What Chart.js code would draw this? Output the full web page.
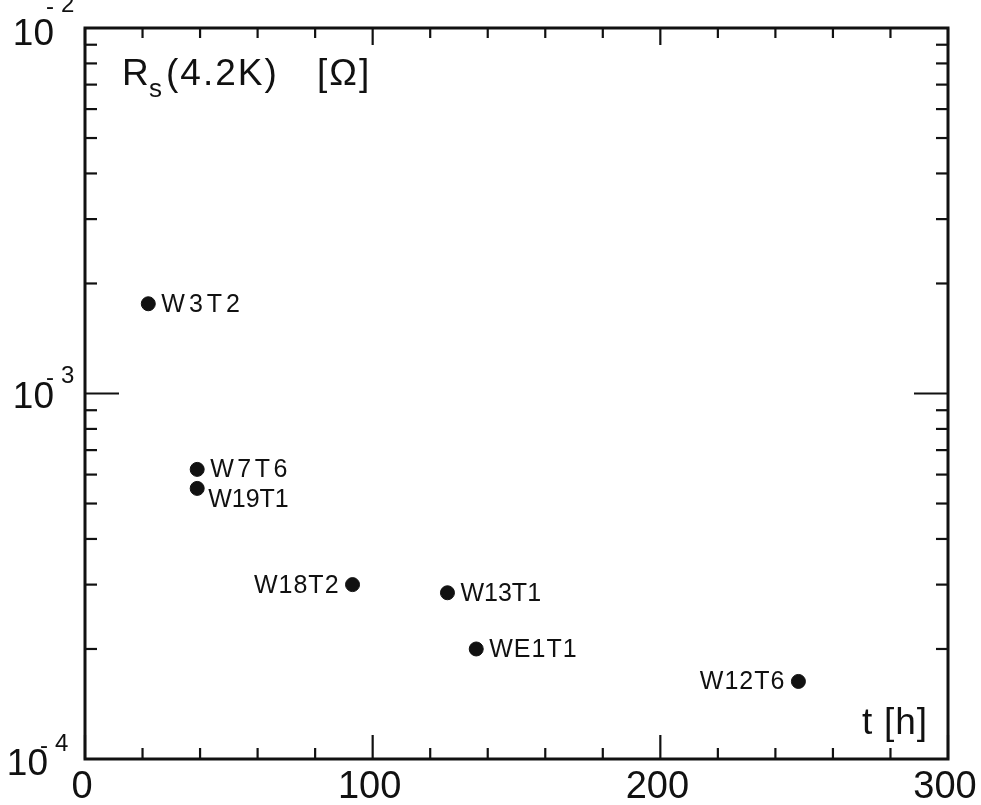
<!DOCTYPE html>
<html><head><meta charset="utf-8">
<script src="https://cdn.jsdelivr.net/npm/chart.js@4.4.1/dist/chart.umd.min.js"></script>
<style>html,body{margin:0;padding:0;background:#fff}#wrap{width:981px;height:805px}</style>
</head><body><div id="wrap"><canvas id="c" width="981" height="805"></canvas></div>
<script>
// ---- data ----
const sampleNames = ['W3T2','W7T6','W19T1','W18T2','W13T1','WE1T1','W12T6'];
const tHours      = [22, 39, 39, 93, 126, 136, 248];
const rsOhm       = [1.76e-3, 6.2e-4, 5.5e-4, 3.0e-4, 2.85e-4, 2.0e-4, 1.63e-4];
const xMajorTicks = [0, 100, 200, 300];
const xMinorStep  = 20;
const yDecadeExp  = [-4, -3, -2];

// label placement / spacing (styling only)
const labelPlace = {W3T2:'r', W7T6:'r', W19T1:'rb', W18T2:'l', W13T1:'r', WE1T1:'r', W12T6:'l'};
const labelSpacing = {W3T2:4, W7T6:3.5, W19T1:0, W18T2:1, W13T1:0, WE1T1:1, W12T6:1};

const ink = '#111';
const FONT = '"Liberation Sans", "DejaVu Sans", sans-serif';
const decor = {
  id: 'decor',
  afterDraw(chart) {
    const ctx = chart.ctx, a = chart.chartArea, xs = chart.scales.x, ys = chart.scales.y;
    ctx.save();
    ctx.strokeStyle = ink; ctx.fillStyle = ink; ctx.lineCap = 'butt';
    // frame
    ctx.lineWidth = 3;
    ctx.strokeRect(a.left, a.top, a.right - a.left, a.bottom - a.top);
    // x ticks (bottom & top, inward)
    ctx.lineWidth = 2.2;
    for (let v = xs.min; v <= xs.max; v += xMinorStep) {
      const px = xs.getPixelForValue(v);
      const major = xMajorTicks.includes(v);
      ctx.beginPath(); ctx.moveTo(px, a.bottom); ctx.lineTo(px, a.bottom - (major ? 24 : 11)); ctx.stroke();
      ctx.beginPath(); ctx.moveTo(px, a.top); ctx.lineTo(px, a.top + (major ? 17 : 10)); ctx.stroke();
    }
    // y ticks (left & right, inward)
    for (let e = yDecadeExp[0]; e < yDecadeExp[yDecadeExp.length - 1]; e++) {
      for (let m = 1; m <= 9; m++) {
        if (m === 1 && e === yDecadeExp[0]) continue;
        const py = ys.getPixelForValue(m * Math.pow(10, e));
        const len = m === 1 ? 34 : 12;
        ctx.beginPath(); ctx.moveTo(a.left, py); ctx.lineTo(a.left + len, py); ctx.stroke();
        ctx.beginPath(); ctx.moveTo(a.right, py); ctx.lineTo(a.right - len, py); ctx.stroke();
      }
    }
    // x tick labels
    ctx.font = '38px ' + FONT;
    ctx.textAlign = 'center'; ctx.textBaseline = 'alphabetic';
    xMajorTicks.forEach(v => ctx.fillText(String(v), xs.getPixelForValue(v) - 3, a.bottom + 39));
    // y tick labels 10^e
    yDecadeExp.forEach((e, k) => {
      const py = ys.getPixelForValue(Math.pow(10, e));
      let base = py + 14, right = 54, supBase = py - 11;
      if (k === 0) { base = py + 16; right = 48; supBase = py - 8; }
      if (k === yDecadeExp.length - 1) { base = py + 17; right = 54; supBase = py - 16; }
      ctx.font = '37px ' + FONT;
      ctx.textAlign = 'right';
      ctx.fillText('10', right, base);
      ctx.font = '24px ' + FONT;
      ctx.textAlign = 'left';
      ctx.fillText('-', right - 8, supBase + 2);
      ctx.fillText(String(Math.abs(e)), right + 7, supBase);
    });
    // point labels
    const meta = chart.getDatasetMeta(0);
    ctx.font = '25px ' + FONT;
    ctx.textBaseline = 'middle';
    meta.data.forEach((pt, i) => {
      const name = sampleNames[i], p = labelPlace[name];
      ctx.letterSpacing = (labelSpacing[name] || 0) + 'px';
      if (p === 'l') { ctx.textAlign = 'right'; ctx.fillText(name, pt.x - 13, pt.y + 1); }
      else if (p === 'rb') { ctx.textAlign = 'left'; ctx.fillText(name, pt.x + 11, pt.y + 12); }
      else { ctx.textAlign = 'left'; ctx.fillText(name, pt.x + 13, pt.y + 1); }
    });
    // axis titles inside the frame
    ctx.textAlign = 'left'; ctx.textBaseline = 'alphabetic';
    ctx.letterSpacing = '0px';
    ctx.font = '37px ' + FONT;
    ctx.fillText('R', 122, 85);
    ctx.font = '26px ' + FONT;
    ctx.fillText('s', 149, 97);
    ctx.font = '37px ' + FONT;
    ctx.letterSpacing = '2px';
    ctx.fillText('(4.2K)', 166, 85);
    ctx.fillText('[\u03A9]', 317, 85);
    ctx.font = '37px ' + FONT;
    ctx.letterSpacing = '1px';
    ctx.fillText('t', 862, a.bottom - 25);
    ctx.fillText('[h]', 884, a.bottom - 25);
    ctx.restore();
  }
};

new Chart(document.getElementById('c'), {
  type: 'scatter',
  data: { datasets: [{
    data: tHours.map((t, i) => ({x: t, y: rsOhm[i]})),
    backgroundColor: ink, borderColor: ink, pointRadius: 7, pointHoverRadius: 7
  }]},
  options: {
    responsive: false, animation: false,
    layout: { padding: { left: 85, top: 28, right: 33, bottom: 46 } },
    plugins: { legend: { display: false }, tooltip: { enabled: false } },
    scales: {
      x: { type: 'linear', min: 0, max: 300, display: false },
      y: { type: 'logarithmic', min: 1e-4, max: 1e-2, display: false }
    }
  },
  plugins: [decor]
});
</script></body></html>
